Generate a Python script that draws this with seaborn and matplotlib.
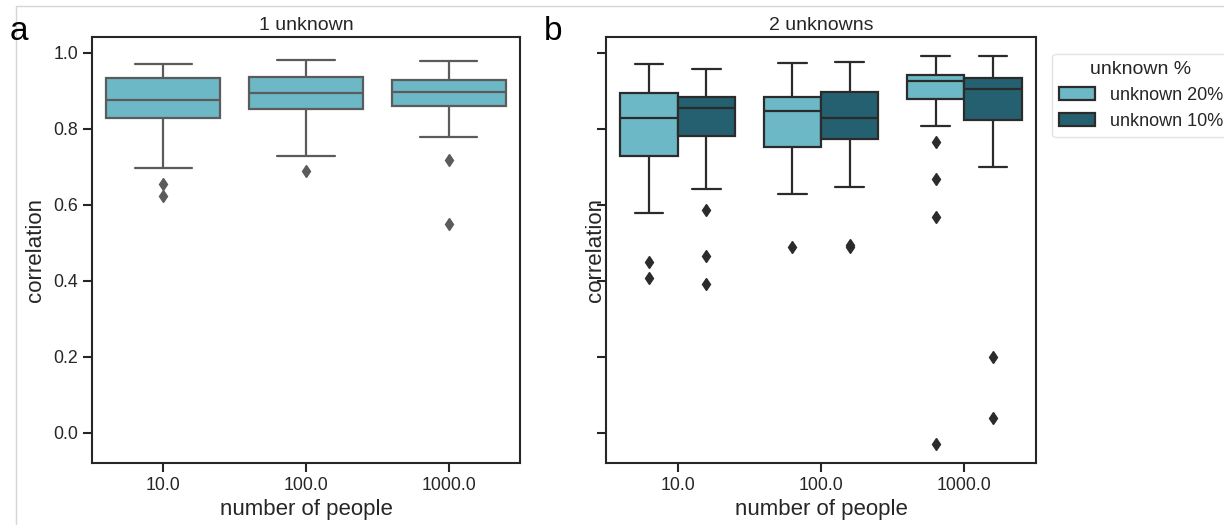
import numpy as np
import pandas as pd
import matplotlib
matplotlib.use("Agg")
import matplotlib.pyplot as plt
from matplotlib.lines import Line2D
import seaborn as sns

# ---------------- data ----------------
people = ["10.0", "100.0", "1000.0"]

# Panel a: 1 unknown  (per category: whisker low, q1, median, q3, whisker high, outliers)
a_whislo = [0.697, 0.730, 0.780]
a_q1     = [0.829, 0.852, 0.860]
a_med    = [0.875, 0.894, 0.898]
a_q3     = [0.933, 0.937, 0.929]
a_whishi = [0.971, 0.982, 0.979]
a_fliers = [[0.654, 0.623], [0.689], [0.719, 0.551]]

# Panel b: 2 unknowns, unknown 20%
b20_whislo = [0.580, 0.630, 0.807]
b20_q1     = [0.730, 0.753, 0.879]
b20_med    = [0.829, 0.847, 0.925]
b20_q3     = [0.894, 0.885, 0.941]
b20_whishi = [0.971, 0.974, 0.991]
b20_fliers = [[0.451, 0.409], [0.489], [0.766, 0.668, 0.569, -0.028]]

# Panel b: 2 unknowns, unknown 10%
b10_whislo = [0.641, 0.647, 0.701]
b10_q1     = [0.781, 0.773, 0.824]
b10_med    = [0.856, 0.829, 0.906]
b10_q3     = [0.885, 0.898, 0.935]
b10_whishi = [0.959, 0.976, 0.991]
b10_fliers = [[0.586, 0.465, 0.392], [0.495, 0.490], [0.200, 0.040]]

hue_levels = ["unknown 20%", "unknown 10%"]


def observations(lo, q1, med, q3, hi, fliers, t=5):
    """Sorted observation list whose boxplot statistics equal the values read above."""
    low = sorted(f for f in fliers if f < q1)
    high = sorted(f for f in fliers if f > q3)
    vals = low + [lo] + [q1] * (t - len(low))
    vals += [med] * t
    vals += [q3] * t
    vals += [q3] * (t - 1 - len(high)) + [hi] + high
    return vals


rows_a = []
for i, p in enumerate(people):
    for v in observations(a_whislo[i], a_q1[i], a_med[i], a_q3[i], a_whishi[i], a_fliers[i]):
        rows_a.append({"number of people": p, "correlation": v})
df_a = pd.DataFrame(rows_a)

rows_b = []
series_b = {
    "unknown 20%": (b20_whislo, b20_q1, b20_med, b20_q3, b20_whishi, b20_fliers),
    "unknown 10%": (b10_whislo, b10_q1, b10_med, b10_q3, b10_whishi, b10_fliers),
}
for h in hue_levels:
    lo, q1, md, q3, hi, fl = series_b[h]
    for i, p in enumerate(people):
        for v in observations(lo[i], q1[i], md[i], q3[i], hi[i], fl[i]):
            rows_b.append({"number of people": p, "correlation": v, "unknown %": h})
df_b = pd.DataFrame(rows_b)

# ---------------- style ----------------
sns.set_theme(style="ticks")
plt.rcParams["font.family"] = ["Liberation Sans", "DejaVu Sans"]
plt.rcParams.update({
    "axes.linewidth": 1.5,
    "xtick.major.width": 1.5,
    "ytick.major.width": 1.5,
    "xtick.major.size": 6.5,
    "ytick.major.size": 6.5,
    "xtick.labelsize": 12.8,
    "ytick.labelsize": 12.8,
    "axes.labelsize": 16,
    "axes.titlesize": 14,
    "axes.edgecolor": "#262626",
    "text.color": "#262626",
    "axes.labelcolor": "#262626",
    "xtick.color": "#262626",
    "ytick.color": "#262626",
})

light = "#6cb8c6"
dark = "#256070"
gray_a = "#5b5b5b"
gray_b = "#2b2b2b"

fig = plt.figure(figsize=(12.24, 5.25), dpi=100)
ax1 = fig.add_axes([92 / 1224, 62 / 525, 428 / 1224, 426 / 525])
ax2 = fig.add_axes([606 / 1224, 62 / 525, 430 / 1224, 426 / 525])

sns.boxplot(data=df_a, x="number of people", y="correlation", order=people,
            color=light, saturation=1, width=0.8, linewidth=1.6,
            linecolor=gray_a, fliersize=6,
            flierprops=dict(marker="d", markerfacecolor=gray_a, markeredgecolor=gray_a),
            ax=ax1)

sns.boxplot(data=df_b, x="number of people", y="correlation", hue="unknown %",
            order=people, hue_order=hue_levels, palette=[light, dark],
            saturation=1, width=0.8, gap=0, linewidth=1.6,
            linecolor=gray_b, fliersize=6,
            flierprops=dict(marker="d", markerfacecolor=gray_b, markeredgecolor=gray_b),
            ax=ax2)

for ax in (ax1, ax2):
    ax.set_ylim(-0.079, 1.042)
    ax.set_yticks([0.0, 0.2, 0.4, 0.6, 0.8, 1.0])
    ax.set_xlabel("number of people")
    ax.set_ylabel("correlation")

ax1.set_title("1 unknown", pad=5)
ax2.set_title("2 unknowns", pad=5)
ax2.set_yticklabels([])
ax1.yaxis.set_label_coords(-0.107, 0.5)
ax2.yaxis.set_label_coords(0.0, 0.5)

sns.move_legend(ax2, "upper left", bbox_to_anchor=(1.016, 0.982),
                title="unknown %", frameon=True, fontsize=13, title_fontsize=14)
leg = ax2.get_legend()
leg.get_frame().set_edgecolor("#dddddd")

fig.text(10 / 1224, 1 - 40 / 525, "a", fontsize=24, color="black", va="baseline")
fig.text(544 / 1224, 1 - 40 / 525, "b", fontsize=24, color="black", va="baseline")

# faint screenshot border lines
fig.add_artist(Line2D([16 / 1224, 1], [1 - 6 / 525, 1 - 6 / 525], color="#d6d6d6", lw=1))
fig.add_artist(Line2D([16 / 1224, 16 / 1224], [0, 1 - 6 / 525], color="#d6d6d6", lw=1))

fig.savefig("out.png", dpi=100)
